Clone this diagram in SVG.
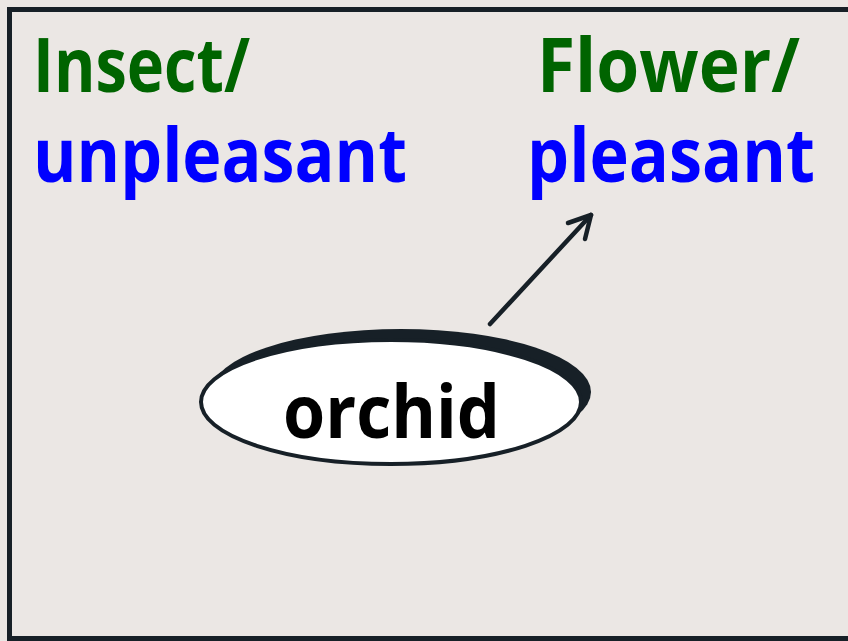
<svg xmlns="http://www.w3.org/2000/svg" width="848" height="641" viewBox="0 0 848 641">
  <defs>
    <style>
      .label { font-family: "Open Sans", "DejaVu Sans", sans-serif; font-weight: bold; font-size: 75px; }
      .cat { fill: #006400; }
      .attr { fill: #0000ff; }
      .node-text { font-family: "Open Sans", "DejaVu Sans", sans-serif; font-weight: bold; font-size: 73px; fill: #000; }
      .edge { stroke: #172027; stroke-width: 4.5; fill: none; stroke-linecap: round; stroke-linejoin: round; }
    </style>
  </defs>

  <!-- slide background and frame -->
  <rect x="0" y="0" width="848" height="641" fill="#ebe7e4"/>
  <rect x="9.5" y="9.5" width="850" height="629" fill="#ebe7e4" stroke="#172027" stroke-width="5"/>

  <!-- category labels -->
  <g id="left-label">
    <text class="label cat" x="33" y="92" textLength="217" lengthAdjust="spacingAndGlyphs">Insect/</text>
    <text class="label attr" x="33" y="182" textLength="374" lengthAdjust="spacingAndGlyphs">unpleasant</text>
  </g>
  <g id="right-label">
    <text class="label cat" x="537" y="92" textLength="263" lengthAdjust="spacingAndGlyphs">Flower/</text>
    <text class="label attr" x="527" y="182" textLength="288" lengthAdjust="spacingAndGlyphs">pleasant</text>
  </g>

  <!-- stimulus node -->
  <g id="orchid">
    <ellipse cx="401" cy="392" rx="190" ry="63" fill="#172027"/>
    <ellipse cx="391" cy="402" rx="190" ry="62" fill="#ffffff" stroke="#172027" stroke-width="4"/>
    <text class="node-text" x="283" y="438" textLength="217" lengthAdjust="spacingAndGlyphs">orchid</text>
  </g>

  <!-- connectors -->
  <g id="connectors">
    <line class="edge" x1="490" y1="324" x2="591" y2="215"/>
    <polyline class="edge" points="568,223 591,215 585,239"/>
  </g>
</svg>
